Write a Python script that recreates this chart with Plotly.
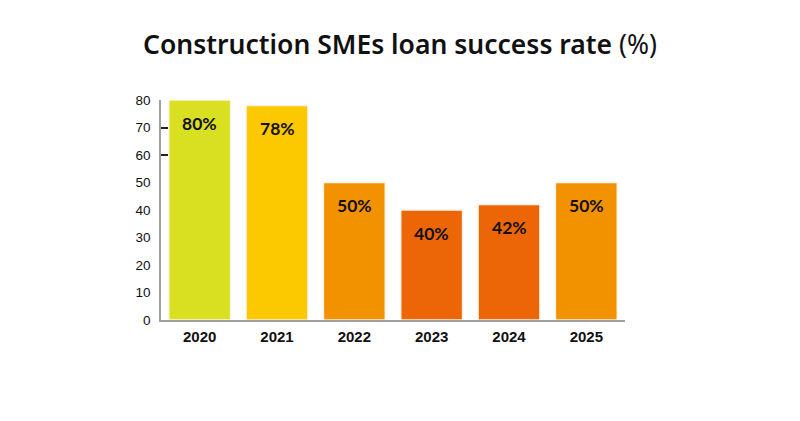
import plotly.graph_objects as go

years = ["2020", "2021", "2022", "2023", "2024", "2025"]
rates = [80, 78, 50, 40, 42, 50]
labels = ["80%", "78%", "50%", "40%", "42%", "50%"]
colors = ["#d9e021", "#fcc800", "#f39200", "#ec6608", "#ec6608", "#f39200"]
y_ticks = [0, 10, 20, 30, 40, 50, 60, 70, 80]
marked_ticks = [60, 70, 80]

fig = go.Figure()
fig.add_trace(go.Bar(
    x=years, y=rates,
    marker=dict(color=colors, line=dict(color="#fdf3e6", width=1.5)),
    hoverinfo="skip", showlegend=False,
))
# invisible trace on overlay axis for the short tick marks
fig.add_trace(go.Scatter(x=[years[0]], y=[0], yaxis="y2", mode="markers",
                         marker=dict(opacity=0), hoverinfo="skip", showlegend=False))

for i, (val, lab) in enumerate(zip(rates, labels)):
    fig.add_annotation(
        x=i, y=val, text=lab, showarrow=False, xref="x", yref="y",
        yanchor="middle", yshift=-23,
        font=dict(family="Lato", size=17.5, color="#111111", weight="bold"),
    )

fig.update_layout(
    width=784, height=405,
    paper_bgcolor="white", plot_bgcolor="white",
    margin=dict(l=153, r=167, t=92, b=93),
    bargap=0.2,
    title=dict(
        text="<span style='font-weight:600'>Construction SMEs loan success rate</span> (%)",
        x=0.5, xanchor="center", y=0.909, yanchor="middle",
        font=dict(family="Noto Sans", size=26.5, color="#111111"),
    ),
    xaxis=dict(
        type="category", categoryorder="array", categoryarray=years,
        range=[-0.5, len(years) - 0.5],
        showline=True, linecolor="#a0a0a0", linewidth=1.5,
        ticks="", showgrid=False,
        tickfont=dict(family="Liberation Sans", size=15, color="#111111", weight="bold"),
        ticklabelstandoff=2,
    ),
    yaxis=dict(
        range=[0, 80], tickvals=y_ticks, showline=True, linecolor="#a0a0a0",
        linewidth=1.5, ticks="", showgrid=False, zeroline=False,
        tickfont=dict(family="Liberation Sans", size=13.5, color="#111111"),
        ticklabelstandoff=6,
    ),
    yaxis2=dict(
        overlaying="y", side="left", range=[0, 80], tickvals=marked_ticks,
        showticklabels=False, ticks="inside", ticklen=7, tickwidth=1.5,
        tickcolor="#222222", showline=False, showgrid=False, zeroline=False,
    ),
)

fig.write_html("out.html")
